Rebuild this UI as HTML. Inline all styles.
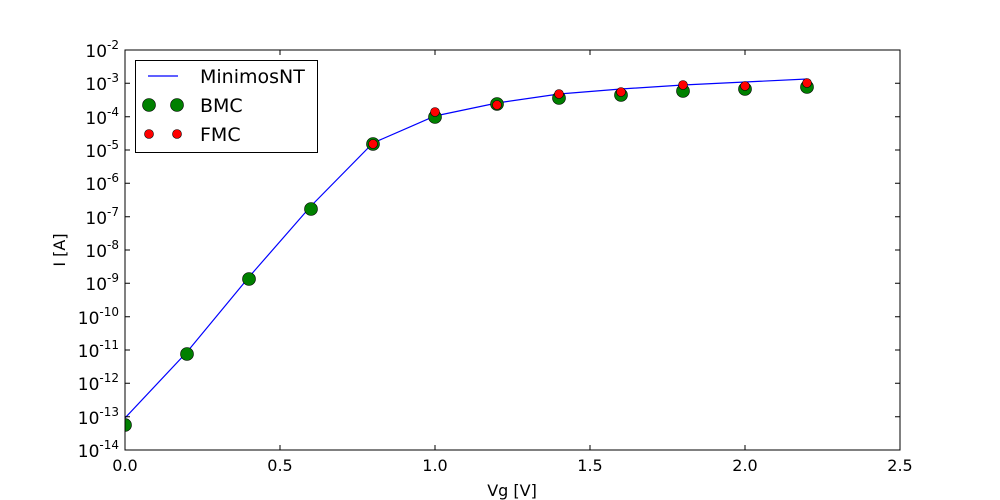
<!DOCTYPE html>
<html><head><meta charset="utf-8"><style>
body{margin:0;background:#fff;}
svg{display:block;font-family:"DejaVu Sans","Liberation Sans",sans-serif;}
</style></head><body>
<svg width="1000" height="500" viewBox="0 0 1000 500">
<defs><clipPath id="c"><rect x="125" y="50" width="775" height="400"/></clipPath></defs>
<rect width="1000" height="500" fill="#fff"/>
<g clip-path="url(#c)">
<polyline fill="none" stroke="#0000ff" stroke-width="1.2" points="125,418 187,352 249,277 311,206 373,143 435,116 497,103 559,94 621,89 683,85 745,82 807,79"/>
<g fill="#008000" stroke="#000" stroke-width="0.6">
<circle cx="125" cy="425" r="6.5"/><circle cx="187" cy="354" r="6.5"/><circle cx="249" cy="279" r="6.5"/><circle cx="311" cy="209" r="6.5"/><circle cx="373" cy="144" r="6.5"/><circle cx="435" cy="117" r="6.5"/><circle cx="497" cy="104" r="6.5"/><circle cx="559" cy="98" r="6.5"/><circle cx="621" cy="95" r="6.5"/><circle cx="683" cy="91" r="6.5"/><circle cx="745" cy="89" r="6.5"/><circle cx="807" cy="87" r="6.5"/>
</g>
<g fill="#ff0000" stroke="#000" stroke-width="0.6">
<circle cx="373" cy="144" r="4.5"/><circle cx="435" cy="112" r="4.5"/><circle cx="497" cy="105" r="4.5"/><circle cx="559" cy="94" r="4.5"/><circle cx="621" cy="92" r="4.5"/><circle cx="683" cy="85" r="4.5"/><circle cx="745" cy="86" r="4.5"/><circle cx="807" cy="83" r="4.5"/>
</g>
</g>
<rect x="125" y="50" width="775" height="400" fill="none" stroke="#000" stroke-width="1"/>
<g stroke="#000" stroke-width="1">
<path d="M125,450v-5M125,50v5M280,450v-5M280,50v5M435,450v-5M435,50v5M590,450v-5M590,50v5M745,450v-5M745,50v5M900,450v-5M900,50v5"/>
<path d="M125,83.3h5M900,83.3h-5M125,116.7h5M900,116.7h-5M125,150h5M900,150h-5M125,183.3h5M900,183.3h-5M125,216.7h5M900,216.7h-5M125,250h5M900,250h-5M125,283.3h5M900,283.3h-5M125,316.7h5M900,316.7h-5M125,350h5M900,350h-5M125,383.3h5M900,383.3h-5M125,416.7h5M900,416.7h-5"/>
</g>
<g font-size="16" text-anchor="middle" fill="#000">
<text x="125" y="471">0.0</text><text x="280" y="471">0.5</text><text x="435" y="471">1.0</text><text x="590" y="471">1.5</text><text x="745" y="471">2.0</text><text x="900" y="471">2.5</text>
<text x="512" y="496">Vg [V]</text>
</g>
<g font-size="17" fill="#000" text-anchor="end">
<text x="119" y="57">10<tspan font-size="12" dy="-8">-2</tspan></text>
<text x="119" y="90">10<tspan font-size="12" dy="-8">-3</tspan></text>
<text x="119" y="124">10<tspan font-size="12" dy="-8">-4</tspan></text>
<text x="119" y="157">10<tspan font-size="12" dy="-8">-5</tspan></text>
<text x="119" y="190">10<tspan font-size="12" dy="-8">-6</tspan></text>
<text x="119" y="224">10<tspan font-size="12" dy="-8">-7</tspan></text>
<text x="119" y="257">10<tspan font-size="12" dy="-8">-8</tspan></text>
<text x="119" y="290">10<tspan font-size="12" dy="-8">-9</tspan></text>
<text x="119" y="324">10<tspan font-size="12" dy="-8">-10</tspan></text>
<text x="119" y="357">10<tspan font-size="12" dy="-8">-11</tspan></text>
<text x="119" y="390">10<tspan font-size="12" dy="-8">-12</tspan></text>
<text x="119" y="424">10<tspan font-size="12" dy="-8">-13</tspan></text>
<text x="119" y="457">10<tspan font-size="12" dy="-8">-14</tspan></text>
</g>
<text x="65" y="250" font-size="16" text-anchor="middle" transform="rotate(-90 65 250)">I [A]</text>
<rect x="135.5" y="60.5" width="182" height="92" fill="#fff" stroke="#000" stroke-width="1"/>
<line x1="148" y1="76" x2="178" y2="76" stroke="#0000ff" stroke-width="1.2"/>
<circle cx="149" cy="105" r="6.5" fill="#008000" stroke="#000" stroke-width="0.6"/>
<circle cx="177" cy="105" r="6.5" fill="#008000" stroke="#000" stroke-width="0.6"/>
<circle cx="149" cy="134" r="4.5" fill="#ff0000" stroke="#000" stroke-width="0.6"/>
<circle cx="177" cy="134" r="4.5" fill="#ff0000" stroke="#000" stroke-width="0.6"/>
<g font-size="19" fill="#000">
<text x="200" y="83">MinimosNT</text><text x="200" y="112">BMC</text><text x="200" y="141">FMC</text>
</g>
</svg>
</body></html>
